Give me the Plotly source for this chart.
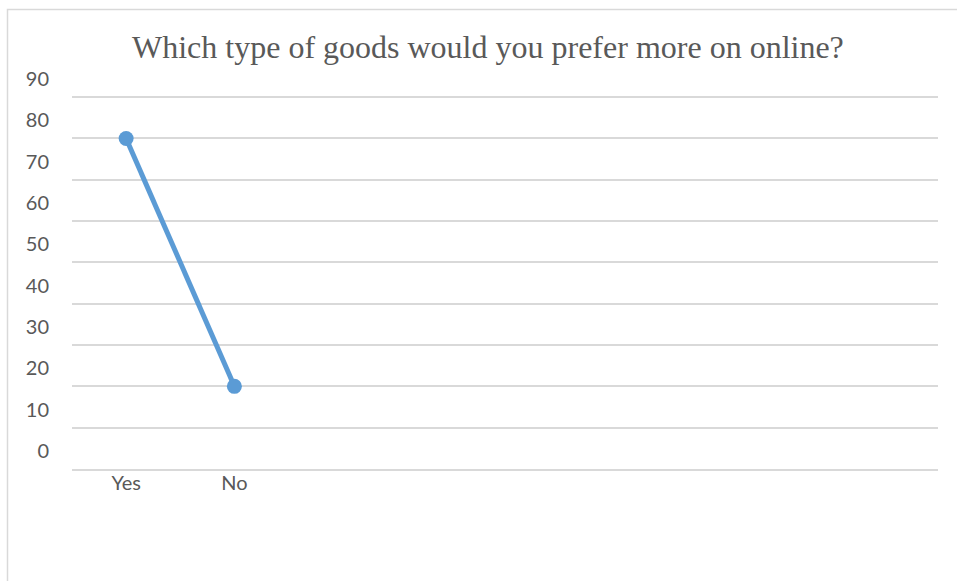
import plotly.graph_objects as go

# Survey answers
answers = ["Yes", "No"]
responses = [80, 20]

# Value axis ticks
y_ticks = [0, 10, 20, 30, 40, 50, 60, 70, 80, 90]
y_tick_labels = ["0", "10", "20", "30", "40", "50", "60", "70", "80", "90"]

title_text = "Which type of goods would you prefer more on online?"

W, H = 957, 581
L, R, T, B = 72, 19, 93, 112
plot_w = W - L - R
plot_h = H - T - B

LINE_BLUE = "#5b9bd5"
GRID = "#d9d9d9"
TEXT = "#595959"

fig = go.Figure()
fig.add_trace(go.Scatter(
    x=answers,
    y=responses,
    mode="lines+markers",
    line=dict(color=LINE_BLUE, width=5),
    marker=dict(color=LINE_BLUE, size=15),
    hoverinfo="x+y",
    showlegend=False,
))


def px_x(p):
    return (p - L) / plot_w


def px_y(p):
    return (H - B - p) / plot_h


fig.update_layout(
    width=W,
    height=H,
    margin=dict(l=L, r=R, t=T, b=B, pad=0),
    paper_bgcolor="white",
    plot_bgcolor="white",
    font=dict(family="Lato, Carlito, sans-serif", size=20, color=TEXT),
    xaxis=dict(
        type="category",
        range=[-0.5, 7.5],
        showgrid=False,
        showline=True,
        linecolor=GRID,
        linewidth=1.5,
        ticks="",
        zeroline=False,
        ticklabelstandoff=-5,
        tickfont=dict(size=20, color=TEXT),
        fixedrange=True,
    ),
    yaxis=dict(
        range=[0, 91],
        tickmode="array",
        tickvals=y_ticks,
        ticktext=y_tick_labels,
        showgrid=True,
        gridcolor=GRID,
        gridwidth=1.5,
        zeroline=False,
        showline=False,
        ticks="",
        ticklabelstandoff=22,
        ticklabelshift=-18,
        tickfont=dict(size=20, color=TEXT),
        fixedrange=True,
    ),
    annotations=[dict(
        text=title_text,
        xref="paper", yref="paper",
        x=px_x(487.5), y=px_y(47),
        xanchor="center", yanchor="middle",
        showarrow=False,
        font=dict(family="Liberation Serif, Times New Roman, serif", size=32, color=TEXT),
    )],
    shapes=[dict(
        type="rect",
        xref="paper", yref="paper",
        x0=px_x(7.5), x1=px_x(1100),
        y0=px_y(700), y1=px_y(9.5),
        line=dict(color=GRID, width=1.5),
        fillcolor="rgba(0,0,0,0)",
        layer="below",
    )],
)

fig.write_html("out.html")
